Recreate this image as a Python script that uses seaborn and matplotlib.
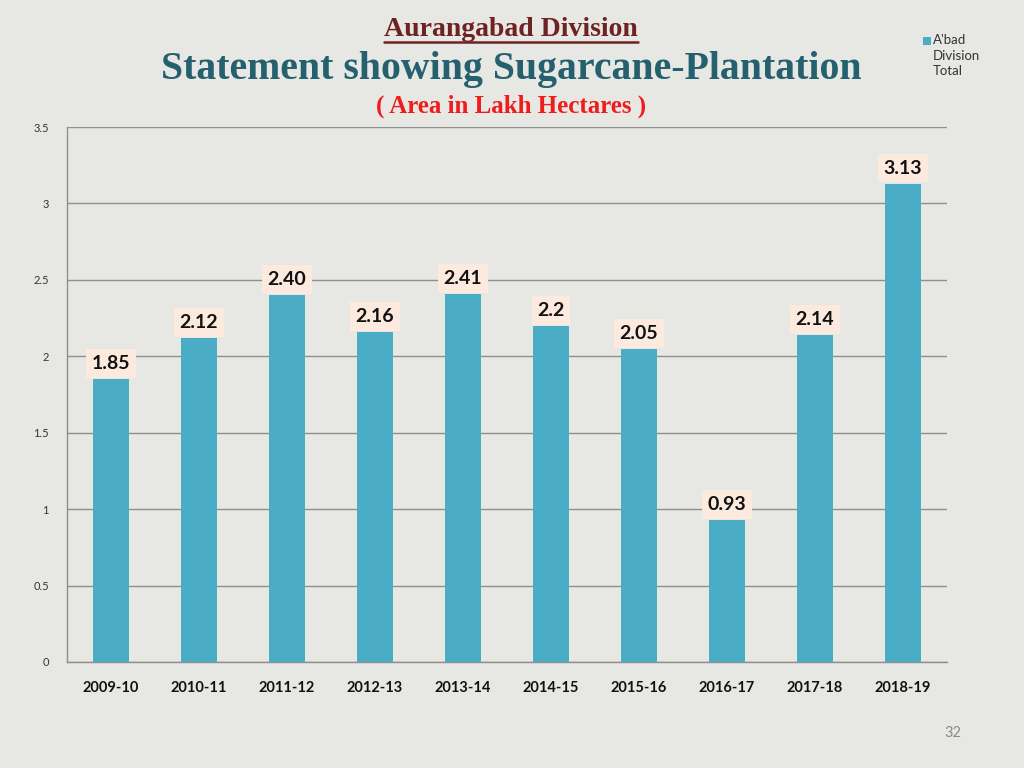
import matplotlib
matplotlib.use("Agg")
import matplotlib.pyplot as plt
import seaborn as sns
import numpy as np
import pandas as pd
from matplotlib.lines import Line2D

years = ["2009-10", "2010-11", "2011-12", "2012-13", "2013-14",
         "2014-15", "2015-16", "2016-17", "2017-18", "2018-19"]
area = [1.85, 2.12, 2.40, 2.16, 2.41, 2.2, 2.05, 0.93, 2.14, 3.13]
labels = ["1.85", "2.12", "2.40", "2.16", "2.41", "2.2", "2.05", "0.93", "2.14", "3.13"]
yticks = [0, 0.5, 1, 1.5, 2, 2.5, 3, 3.5]

df = pd.DataFrame({"year": years, "area": area})

sns.set_style("white")
plt.rcParams['font.family'] = ['Lato', 'DejaVu Sans']

bg = "#e7e7e3"
bar_color = "#4bacc6"
grid_color = "#8f8f8f"

fig = plt.figure(figsize=(10.24, 7.68), dpi=100, facecolor=bg)
ax = fig.add_axes([67/1024, 1 - 662/768, 880/1024, 535/768])
ax.set_facecolor(bg)

sns.barplot(data=df, x="year", y="area", color=bar_color, width=0.41,
            saturation=1, linewidth=0, ax=ax, zorder=3)

ax.set_ylim(0, 3.5)
ax.set_xlim(-0.5, len(years) - 0.5)
ax.set_yticks(yticks)
ax.set_yticklabels(["0", "0.5", "1", "1.5", "2", "2.5", "3", "3.5"],
                   fontsize=8, color="#333333")
ax.yaxis.grid(True, color=grid_color, linewidth=1, zorder=0)
ax.set_axisbelow(True)

ax.set_xticks(range(len(years)))
ax.set_xticklabels(years, fontsize=10.5, fontweight="bold", color="#111111")
ax.set_xticks(np.arange(-0.5, len(years), 1), minor=True)
ax.tick_params(axis="x", which="major", length=0, pad=14)
ax.tick_params(axis="x", which="minor", length=5, color=grid_color, width=1)
ax.tick_params(axis="y", which="major", length=5, color=grid_color, width=1, pad=8)
ax.set_xlabel("")
ax.set_ylabel("")

for s in ["top", "right"]:
    ax.spines[s].set_visible(False)
for s in ["left", "bottom"]:
    ax.spines[s].set_color(grid_color)
    ax.spines[s].set_linewidth(1)

# value labels in peach boxes
for i, (v, t) in enumerate(zip(area, labels)):
    ax.annotate(t, xy=(i, v), xytext=(0, 5), textcoords="offset points",
                ha="center", va="bottom", fontsize=14, fontweight="bold",
                color="#111111", zorder=5,
                bbox=dict(boxstyle="square,pad=0.3", fc="#fbeadd", ec="none"))

# titles
serif = ["Liberation Serif", "DejaVu Serif"]
t1 = fig.text(511/1024, 1 - 30/768, "Aurangabad Division", ha="center", va="center",
              fontsize=20, fontweight="bold", color="#6e2323", family=serif)
fig.text(511/1024, 1 - 70/768, "Statement showing Sugarcane-Plantation",
         ha="center", va="center", fontsize=28.6, fontweight="bold", color="#24606e",
         family=serif)
fig.text(511/1024, 1 - 106/768, "( Area in Lakh Hectares )", ha="center", va="center",
         fontsize=18, fontweight="bold", color="#ee1c1c", family=serif)

# underline for the first title
fig.canvas.draw()
bb = t1.get_window_extent().transformed(fig.transFigure.inverted())
fig.add_artist(Line2D([bb.x0, bb.x1], [bb.y0 + 0.001, bb.y0 + 0.001],
                      transform=fig.transFigure, color="#6e2323", linewidth=1.8))

# legend (marker beside the first line of the label)
fig.add_artist(plt.Rectangle((923/1024, 1 - 45/768), 8/1024, 8/768,
                             transform=fig.transFigure, fc=bar_color, ec="none"))
fig.text(933/1024, 1 - 34/768, "A'bad\nDivision\nTotal", ha="left", va="top",
         fontsize=9.5, color="#333333", linespacing=1.35)

fig.text(953/1024, 1 - 733/768, "32", ha="center", va="center",
         fontsize=10.5, color="#8a8a8a")

fig.savefig("out.png", dpi=100, facecolor=bg)
